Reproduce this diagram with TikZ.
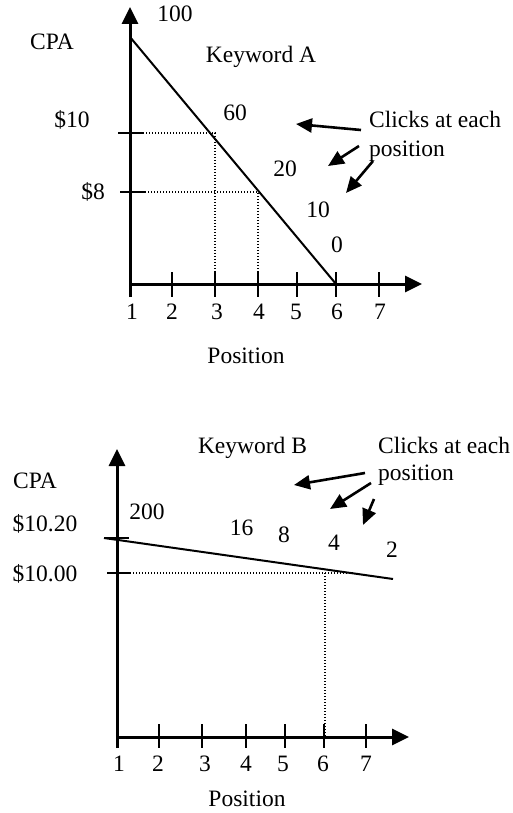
\documentclass[tikz,border=0pt]{standalone}
\usepackage{fontspec}
\setmainfont{Liberation Serif}
\usetikzlibrary{arrows.meta}
\begin{document}
\begin{tikzpicture}[x=1pt,y=-1pt,
  lbl/.style={font=\fontsize{23.5}{27}\selectfont, inner sep=0pt, anchor=base},
  lblw/.style={lbl, anchor=base west},
  axis/.style={line width=3pt, -{Triangle[length=17pt,width=16pt]}},
  tickmark/.style={line width=2.2pt},
  curve/.style={line width=2pt},
  guide/.style={line width=1.4pt, dash pattern=on 1.3pt off 1.7pt},
  pointer/.style={line width=2.6pt, -{Triangle[length=16pt,width=14pt]}}]
\useasboundingbox (0,0) rectangle (512,813);

% ---------------- Keyword A ----------------
\coordinate (ya0) at (130,297);
\coordinate (yatip) at (130,7);
\coordinate (xa0) at (130,284);
\coordinate (xatip) at (422,284);
\draw[axis] (ya0) -- (yatip);
\draw[axis] (xa0) -- (xatip);
\foreach \x/\n in {172/2,215/3,258/4,297/5,336/6,379/7}
  \draw[tickmark] (\x,272) -- (\x,297);
\coordinate (la0) at (130,37);
\coordinate (la1) at (336,284);
\draw[curve] (la0) -- (la1);
% y ticks
\coordinate (ta10a) at (118,133); \coordinate (ta10b) at (143,133);
\coordinate (ta8a) at (120,192); \coordinate (ta8b) at (145,192);
\draw[tickmark] (ta10a) -- (ta10b);
\draw[tickmark] (ta8a) -- (ta8b);
\coordinate (ga10) at (215,133); \coordinate (ga10d) at (215,284);
\coordinate (ga8) at (258,192); \coordinate (ga8d) at (258,284);
\draw[guide] (ta10b) -- (ga10) -- (ga10d);
\draw[guide] (ta8b) -- (ga8) -- (ga8d);
% labels
\node[lbl] (a100) at (175,22) {100};
\node[lbl] (acpa) at (52,50) {CPA};
\node[lbl] (akw) at (261,63) {Keyword A};
\node[lbl] (a10d) at (72,128) {\$10};
\node[lbl] (a8d) at (93,200) {\$8};
\node[lbl] (a60) at (235,121) {60};
\node[lbl] (a20) at (285,177) {20};
\node[lbl] (a10) at (318,217) {10};
\node[lbl] (a0) at (337,252) {0};
\foreach \x/\n in {132/1,172/2,217/3,259/4,296/5,337/6,380/7}
  \node[lbl] (ap\n) at (\x,319) {\n};
\node[lbl] (apos) at (246,363) {Position};
\node[lblw] (acl1) at (369,128) {Clicks at each};
\node[lblw] (acl2) at (369,157) {position};
% pointers
\coordinate (pa1s) at (361,130); \coordinate (pa1e) at (296,124);
\coordinate (pa2s) at (359,146); \coordinate (pa2e) at (328,166);
\coordinate (pa3s) at (373,161); \coordinate (pa3e) at (346,193);
\draw[pointer] (pa1s) -- (pa1e);
\draw[pointer] (pa2s) -- (pa2e);
\draw[pointer] (pa3s) -- (pa3e);

% ---------------- Keyword B ----------------
\coordinate (yb0) at (117,748);
\coordinate (ybtip) at (117,449);
\coordinate (xb0) at (117,737);
\coordinate (xbtip) at (409,737);
\draw[axis] (yb0) -- (ybtip);
\draw[axis] (xb0) -- (xbtip);
\foreach \x in {159,202,246,285,324,366}
  \draw[tickmark] (\x,724) -- (\x,748);
\coordinate (tb20a) at (104,538); \coordinate (tb20b) at (129,538);
\coordinate (tb00a) at (107,573); \coordinate (tb00b) at (130,573);
\draw[tickmark] (tb20a) -- (tb20b);
\draw[tickmark] (tb00a) -- (tb00b);
\coordinate (gb0) at (353,573);
\coordinate (gb6) at (325,573); \coordinate (gb6d) at (325,737);
\draw[guide] (tb00b) -- (gb0);
\draw[guide] (gb6) -- (gb6d);
\coordinate (lb0) at (104,538);
\coordinate (lb1) at (393,579);
\draw[curve] (lb0) -- (lb1);
% labels
\node[lbl] (bcpa) at (35,488) {CPA};
\node[lbl] (b1020) at (45,531) {\$10.20};
\node[lbl] (b1000) at (45,581) {\$10.00};
\node[lbl] (b200) at (147,519) {200};
\node[lbl] (b16) at (241.5,535) {16};
\node[lbl] (b8) at (284,542) {8};
\node[lbl] (b4) at (334,550) {4};
\node[lbl] (b2) at (392,557) {2};
\node[lbl] (bkw) at (252.5,453) {Keyword B};
\node[lblw] (bcl1) at (378,453) {Clicks at each};
\node[lblw] (bcl2) at (378,480) {position};
\foreach \x/\n in {119/1,158/2,205/3,246/4,283/5,323/6,366/7}
  \node[lbl] (bp\n) at (\x,771) {\n};
\node[lbl] (bpos) at (247,806) {Position};
% pointers
\coordinate (pb1s) at (365,473); \coordinate (pb1e) at (294,485);
\coordinate (pb2s) at (371,483); \coordinate (pb2e) at (330,509);
\coordinate (pb3s) at (374,499); \coordinate (pb3e) at (363,525);
\draw[pointer] (pb1s) -- (pb1e);
\draw[pointer] (pb2s) -- (pb2e);
\draw[pointer] (pb3s) -- (pb3e);
\end{tikzpicture}
\end{document}
